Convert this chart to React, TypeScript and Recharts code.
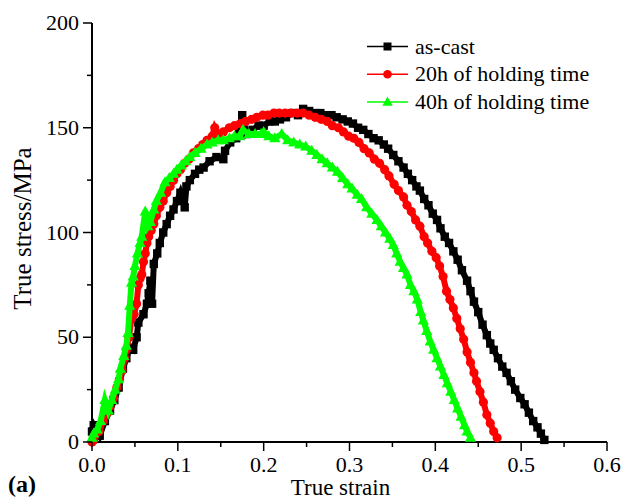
import React from 'react';
import { ScatterChart, Scatter, XAxis, YAxis, Legend } from 'recharts';

const FONT = "Liberation Serif, Tinos, Times New Roman, Times, DejaVu Serif, serif";

const seriesNames = ['as-cast', '20h of holding time', '40h of holding time'];
const seriesColors = ['#000000', '#ff0000', '#00ff00'];

const xTicks = [0, 0.05, 0.1, 0.15, 0.2, 0.25, 0.3, 0.35, 0.4, 0.45, 0.5, 0.55, 0.6];
const yTicks = [0, 25, 50, 75, 100, 125, 150, 175, 200];

const asCastStrain = [
  0.0, 0.002, 0.009, 0.015, 0.021, 0.026, 0.031, 0.036, 0.04, 0.044, 0.048, 0.052, 0.054, 0.06, 0.064, 0.066,
  0.068, 0.07, 0.072, 0.076, 0.079, 0.083, 0.087, 0.091, 0.095, 0.099, 0.103, 0.108, 0.11, 0.114, 0.12, 0.125,
  0.13, 0.137, 0.145, 0.153, 0.155, 0.161, 0.168, 0.175, 0.18, 0.187, 0.194, 0.2, 0.207, 0.213, 0.219, 0.226,
  0.233, 0.24, 0.246, 0.253, 0.26, 0.266, 0.272, 0.279, 0.285, 0.292, 0.298, 0.304, 0.31, 0.316, 0.322, 0.328,
  0.334, 0.34, 0.345, 0.351, 0.357, 0.363, 0.368, 0.373, 0.378, 0.382, 0.387, 0.392, 0.397, 0.402, 0.406, 0.411,
  0.416, 0.421, 0.426, 0.431, 0.437, 0.441, 0.445, 0.45, 0.455, 0.46, 0.464, 0.468, 0.473, 0.478, 0.483, 0.488,
  0.493, 0.499, 0.504, 0.509, 0.514, 0.519, 0.523, 0.527,
];
const asCastStress = [
  5, 8, 3, 10, 15, 20, 26, 35, 40, 45, 44, 50, 57, 61, 66, 71,
  77, 66, 85, 90, 95, 100, 104, 108, 111, 115, 119, 112, 122, 125, 128, 130,
  131, 134, 136, 135, 139, 143, 145, 156, 147, 149, 151, 151, 153, 153, 154, 155,
  157, 156, 159, 158, 157, 157, 156, 156, 155, 154, 153, 152, 150, 149, 147, 145,
  144, 142, 140, 137, 134, 131, 128, 125, 122, 120, 116, 113, 109, 106, 102, 98,
  95, 91, 87, 82, 77, 72, 67, 62, 56, 51, 47, 44, 40, 36, 33, 29,
  25, 21, 18, 14, 10, 7, 4, 1,
];

const h20Strain = [
  0.0, 0.002, 0.008, 0.013, 0.018, 0.021, 0.025, 0.029, 0.032, 0.035, 0.038, 0.04, 0.043, 0.046, 0.049, 0.052,
  0.054, 0.056, 0.058, 0.06, 0.062, 0.064, 0.066, 0.069, 0.072, 0.075, 0.079, 0.083, 0.087, 0.091, 0.095, 0.099,
  0.103, 0.108, 0.113, 0.118, 0.124, 0.129, 0.134, 0.14, 0.143, 0.147, 0.153, 0.16, 0.166, 0.173, 0.179, 0.186,
  0.192, 0.199, 0.205, 0.212, 0.218, 0.225, 0.232, 0.239, 0.246, 0.253, 0.26, 0.267, 0.274, 0.28, 0.287, 0.293,
  0.299, 0.305, 0.311, 0.317, 0.323, 0.329, 0.335, 0.341, 0.346, 0.352, 0.357, 0.363, 0.367, 0.372, 0.377, 0.382,
  0.387, 0.391, 0.396, 0.401, 0.405, 0.409, 0.413, 0.417, 0.421, 0.425, 0.429, 0.433, 0.437, 0.441, 0.445, 0.448,
  0.452, 0.456, 0.46, 0.464, 0.468, 0.472,
];
const h20Stress = [
  0, 1, 5, 10, 14, 17, 21, 26, 30, 34, 40, 44, 50, 59, 61, 66,
  75, 78, 80, 86, 90, 95, 98, 101, 104, 108, 112, 115, 119, 122, 125, 128,
  130, 133, 135, 138, 140, 142, 144, 146, 150, 147, 148, 150, 151, 152, 153, 154,
  155, 156, 156, 157, 157, 157, 157, 157, 157, 156, 155, 154, 153, 151, 150, 148,
  146, 145, 143, 140, 138, 135, 133, 130, 127, 123, 120, 117, 113, 110, 106, 103,
  98, 95, 91, 88, 84, 79, 72, 68, 64, 59, 54, 49, 43, 38, 33, 29,
  24, 19, 13, 9, 5, 2,
];

const h40Strain = [
  0.0, 0.002, 0.006, 0.01, 0.015, 0.019, 0.023, 0.027, 0.031, 0.033, 0.037, 0.04, 0.042, 0.044, 0.046, 0.048,
  0.05, 0.053, 0.056, 0.058, 0.062, 0.065, 0.068, 0.072, 0.075, 0.08, 0.085, 0.09, 0.095, 0.099, 0.104, 0.109,
  0.114, 0.12, 0.127, 0.134, 0.14, 0.147, 0.153, 0.16, 0.166, 0.172, 0.176, 0.183, 0.19, 0.197, 0.2, 0.206,
  0.213, 0.221, 0.228, 0.235, 0.242, 0.249, 0.256, 0.262, 0.268, 0.274, 0.28, 0.286, 0.292, 0.298, 0.303, 0.309,
  0.314, 0.32, 0.326, 0.332, 0.337, 0.342, 0.347, 0.351, 0.355, 0.359, 0.363, 0.367, 0.371, 0.375, 0.379, 0.383,
  0.386, 0.39, 0.394, 0.398, 0.402, 0.406, 0.41, 0.414, 0.418, 0.422, 0.426, 0.43, 0.434, 0.437, 0.441,
];
const h40Stress = [
  2, 4, 6, 10, 20, 15, 20, 25, 30, 35, 41, 46, 52, 65, 76, 79,
  84, 90, 95, 98, 110, 103, 105, 111, 115, 119, 124, 126, 128, 130, 132, 134,
  136, 138, 140, 142, 143, 144, 144, 145, 146, 146, 149, 147, 147, 147, 148, 146,
  145, 147, 144, 143, 142, 141, 139, 137, 135, 133, 131, 129, 126, 123, 121, 118,
  116, 112, 109, 106, 103, 100, 97, 94, 90, 86, 83, 80, 75, 72, 68, 62,
  58, 53, 48, 44, 40, 36, 32, 28, 24, 20, 16, 12, 8, 5, 2,
];

const toPoints = (xs: number[], ys: number[]) => xs.map((x, i) => ({ x, y: ys[i] }));

const asCastData = toPoints(asCastStrain, asCastStress);
const h20Data = toPoints(h20Strain, h20Stress);
const h40Data = toPoints(h40Strain, h40Stress);

const SquareMark = (p: any) => (
  <rect x={p.cx - 4.2} y={p.cy - 4.2} width={8.4} height={8.4} fill={seriesColors[0]} />
);
const CircleMark = (p: any) => <circle cx={p.cx} cy={p.cy} r={4.6} fill={seriesColors[1]} />;
const TriangleMark = (p: any) => (
  <polygon
    points={`${p.cx},${p.cy - 6} ${p.cx - 5.6},${p.cy + 4} ${p.cx + 5.6},${p.cy + 4}`}
    fill={seriesColors[2]}
  />
);

const isMajorX = (v: number) => Math.abs(v * 10 - Math.round(v * 10)) < 1e-6;
const isMajorY = (v: number) => v % 50 === 0;

const textStyle = { fontFamily: FONT };

const XTick = (props: any) => {
  const { x, y, payload } = props;
  const v = payload.value as number;
  const major = isMajorX(v);
  return (
    <g>
      <line x1={x} x2={x} y1={y} y2={y + (major ? 9 : 5)} stroke="#000" strokeWidth={1.5} />
      {major && (
        <text x={x} y={y + 30} textAnchor="middle" style={textStyle} fontSize={22} fill="#000">
          {v.toFixed(1)}
        </text>
      )}
    </g>
  );
};

const YTick = (props: any) => {
  const { x, y, payload } = props;
  const v = payload.value as number;
  const major = isMajorY(v);
  return (
    <g>
      <line x1={x - (major ? 9 : 5)} x2={x} y1={y} y2={y} stroke="#000" strokeWidth={1.5} />
      {major && (
        <text x={x - 13} y={y + 7} textAnchor="end" style={textStyle} fontSize={22} fill="#000">
          {String(v)}
        </text>
      )}
    </g>
  );
};

const XTitle = (props: any) => {
  const vb = props.viewBox || { x: 92, y: 442, width: 515, height: 62 };
  return (
    <g>
      <text
        x={vb.x + vb.width / 2 - 9}
        y={vb.y + 53}
        textAnchor="middle"
        style={textStyle}
        fontSize={23}
        fill="#000"
      >
        True strain
      </text>
      <text x={8} y={vb.y + 50} style={textStyle} fontSize={24} fontWeight="bold" fill="#000">
        (a)
      </text>
    </g>
  );
};

const YTitle = (props: any) => {
  const vb = props.viewBox || { x: 0, y: 23, width: 92, height: 419 };
  const cx = 31;
  const cy = vb.y + vb.height / 2 - 4;
  return (
    <text
      x={cx}
      y={cy}
      transform={`rotate(-90, ${cx}, ${cy})`}
      textAnchor="middle"
      style={textStyle}
      fontSize={25}
      fill="#000"
    >
      True stress/MPa
    </text>
  );
};

const legendMarks = [
  (cx: number, cy: number) => <rect x={cx - 4} y={cy - 4} width={8} height={8} fill={seriesColors[0]} />,
  (cx: number, cy: number) => <circle cx={cx} cy={cy} r={4.3} fill={seriesColors[1]} />,
  (cx: number, cy: number) => (
    <polygon points={`${cx},${cy - 5.5} ${cx - 5.2},${cy + 3.8} ${cx + 5.2},${cy + 3.8}`} fill={seriesColors[2]} />
  ),
];

const LegendContent = () => (
  <svg width={250} height={90} style={{ display: 'block', overflow: 'visible' }}>
    {seriesNames.map((name, i) => {
      const cy = 13.5 + i * 27.7;
      return (
        <g key={name}>
          <line x1={5} x2={46} y1={cy} y2={cy} stroke={seriesColors[i]} strokeWidth={1.5} />
          {legendMarks[i](25.5, cy)}
          <text x={53} y={cy + 7} style={textStyle} fontSize={22} fill="#000">
            {name}
          </text>
        </g>
      );
    })}
  </svg>
);

export default function App() {
  return (
    <div style={{ position: 'absolute', left: 0, top: 0, width: 624, height: 504, background: '#fff', fontFamily: FONT }}>
      <ScatterChart width={624} height={504} margin={{ top: 23, right: 17, bottom: 0, left: 0 }}>
        <XAxis
          dataKey="x"
          type="number"
          domain={[0, 0.6]}
          ticks={xTicks}
          interval={0}
          height={62}
          tickSize={0}
          tickMargin={0}
          tickLine={false}
          tick={<XTick />}
          axisLine={{ stroke: '#000', strokeWidth: 2 }}
          label={<XTitle />}
        />
        <XAxis
          xAxisId="top"
          orientation="top"
          type="number"
          domain={[0, 0.6]}
          height={0}
          tick={false}
          tickLine={false}
          axisLine={{ stroke: '#000', strokeWidth: 1.5 }}
        />
        <YAxis
          dataKey="y"
          type="number"
          domain={[0, 200]}
          ticks={yTicks}
          interval={0}
          width={92}
          tickSize={0}
          tickMargin={0}
          tickLine={false}
          tick={<YTick />}
          axisLine={{ stroke: '#000', strokeWidth: 2 }}
          label={<YTitle />}
        />
        <YAxis
          yAxisId="right"
          orientation="right"
          type="number"
          domain={[0, 200]}
          width={0}
          tick={false}
          tickLine={false}
          axisLine={{ stroke: '#000', strokeWidth: 1.5 }}
        />
        <Legend
          layout="vertical"
          align="center"
          verticalAlign="middle"
          wrapperStyle={{ position: 'absolute', top: 33, left: 362, width: 250, height: 90 }}
          content={<LegendContent />}
        />
        <Scatter
          name={seriesNames[0]}
          data={asCastData}
          fill={seriesColors[0]}
          line={{ stroke: seriesColors[0], strokeWidth: 6 }}
          lineType="joint"
          shape={SquareMark}
          isAnimationActive={false}
        />
        <Scatter
          name={seriesNames[1]}
          data={h20Data}
          fill={seriesColors[1]}
          line={{ stroke: seriesColors[1], strokeWidth: 6 }}
          lineType="joint"
          shape={CircleMark}
          isAnimationActive={false}
        />
        <Scatter
          name={seriesNames[2]}
          data={h40Data}
          fill={seriesColors[2]}
          line={{ stroke: seriesColors[2], strokeWidth: 6 }}
          lineType="joint"
          shape={TriangleMark}
          isAnimationActive={false}
        />
      </ScatterChart>
    </div>
  );
}
